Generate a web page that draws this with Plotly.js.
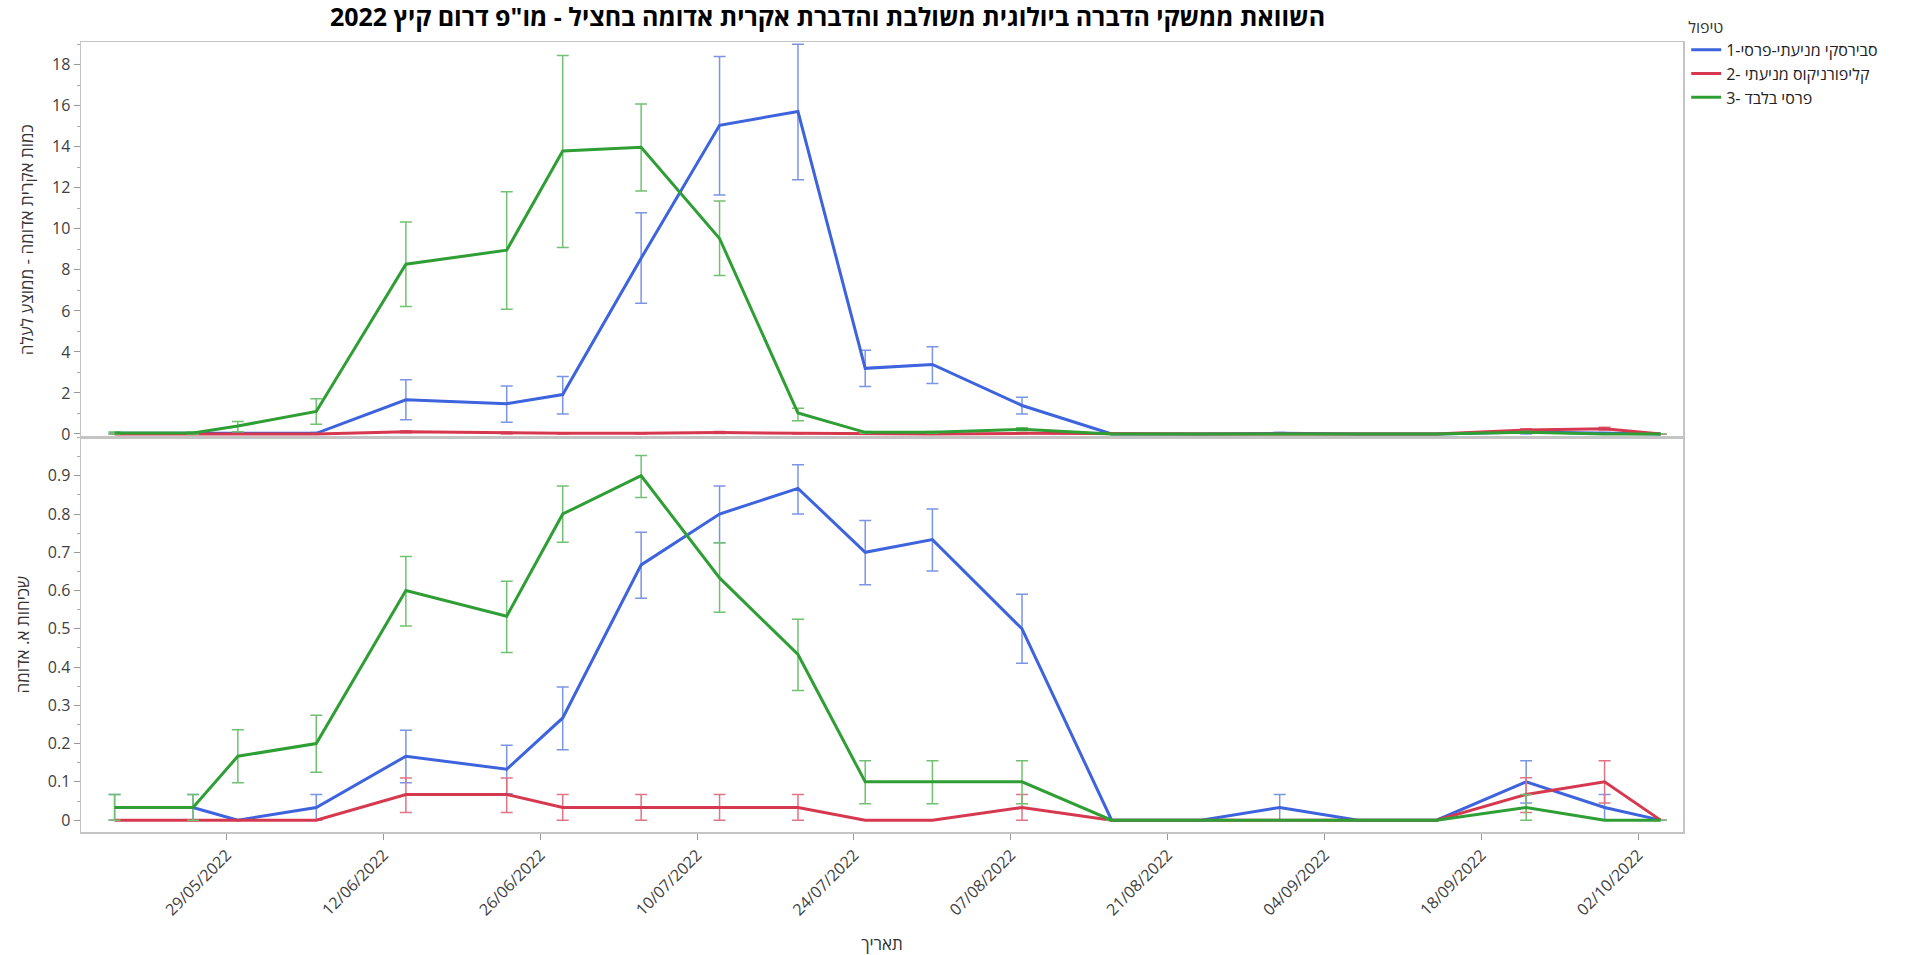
<!DOCTYPE html>
<html>
<head>
<meta charset="utf-8">
<script src="https://cdn.plot.ly/plotly-3.0.1.min.js"></script>
<style>html,body{margin:0;padding:0;background:#fff;}#chart{width:1919px;height:955px;}</style>
</head>
<body>
<div id="chart"></div>
<script>
// ---- data ----
const dates = ['2022-05-19','2022-05-26','2022-05-30','2022-06-06','2022-06-14','2022-06-23','2022-06-28','2022-07-05','2022-07-12','2022-07-19','2022-07-25','2022-07-31','2022-08-08','2022-08-16','2022-08-24','2022-08-31','2022-09-07','2022-09-14','2022-09-22','2022-09-29','2022-10-04'];

const seriesNames = ['1-סבירסקי מניעתי-פרסי', '2- קליפורניקוס מניעתי', '3- פרסי בלבד'];

// top panel: mites per leaf (mean) with error-bar ends
const mitesBlue      = [0.03,0.03,0,0.03,1.67,1.48,1.92,8.57,15.05,15.72,3.2,3.39,1.39,0,0,0.03,0,0,0.1,0.03,0];
const mitesBlueHi    = [0.07,0.07,0,0.07,2.64,2.34,2.8,10.78,18.4,19.0,4.08,4.25,1.79,0,0,0.07,0,0,0.2,0.07,0];
const mitesBlueLo    = [0,0,0,0,0.69,0.57,0.98,6.37,11.65,12.4,2.32,2.46,0.98,0,0,0,0,0,0,0,0];
const mitesRed       = [0,0,0,0,0.11,0.05,0.03,0.03,0.07,0.03,0,0,0.03,0,0,0,0,0,0.2,0.26,0];
const mitesRedHi     = [0,0,0,0,0.16,0.1,0.06,0.06,0.12,0.06,0,0,0.06,0,0,0,0,0,0.26,0.33,0];
const mitesRedLo     = [0,0,0,0,0.06,0,0,0,0.02,0,0,0,0,0,0,0,0,0,0.14,0.19,0];
const mitesGreen     = [0.05,0.05,0.39,1.1,8.28,8.96,13.8,13.98,9.53,1.02,0.08,0.08,0.23,0,0,0,0,0,0.08,0,0];
const mitesGreenHi   = [0.1,0.1,0.61,1.72,10.34,11.81,18.45,16.09,11.36,1.26,0.12,0.12,0.3,0,0,0,0,0,0.12,0,0];
const mitesGreenLo   = [0,0,0.11,0.48,6.21,6.08,9.09,11.85,7.73,0.64,0.04,0.04,0.16,0,0,0,0,0,0.04,0,0];

// bottom panel: incidence
const incBlue    = [0.033,0.033,0,0.033,0.167,0.133,0.267,0.667,0.8,0.867,0.7,0.733,0.5,0,0,0.033,0,0,0.1,0.033,0];
const incBlueHi  = [0.067,0.067,0,0.067,0.235,0.196,0.348,0.752,0.873,0.929,0.783,0.813,0.59,0,0,0.067,0,0,0.155,0.067,0];
const incBlueLo  = [0,0,0,0,0.098,0.069,0.184,0.58,0.725,0.8,0.615,0.651,0.41,0,0,0,0,0,0.045,0,0];
const incRed     = [0,0,0,0,0.067,0.067,0.033,0.033,0.033,0.033,0,0,0.033,0,0,0,0,0,0.067,0.1,0];
const incRedHi   = [0,0,0,0,0.11,0.11,0.067,0.067,0.067,0.067,0,0,0.067,0,0,0,0,0,0.111,0.155,0];
const incRedLo   = [0,0,0,0,0.02,0.02,0,0,0,0,0,0,0,0,0,0,0,0,0.02,0.045,0];
const incGreen   = [0.033,0.033,0.167,0.2,0.6,0.533,0.8,0.9,0.633,0.433,0.1,0.1,0.1,0,0,0,0,0,0.033,0,0];
const incGreenHi = [0.067,0.067,0.236,0.274,0.689,0.624,0.873,0.953,0.725,0.525,0.155,0.155,0.155,0,0,0,0,0,0.067,0,0];
const incGreenLo = [0,0,0.098,0.125,0.507,0.438,0.726,0.843,0.543,0.339,0.043,0.043,0.043,0,0,0,0,0,0,0,0];

// ---- styles ----
const lineColors = ['#3D63DD', '#D6394F', '#2F9F35'];
const barColors  = ['#7B95E6', '#E07484', '#72C172'];
const FONT = 'Segoe UI, "Open Sans", "Noto Sans", "DejaVu Sans", sans-serif';

function mk(i, y, hi, lo, xa, ya, showLegend) {
  return {
    type: 'scatter', mode: 'lines', x: dates, y: y,
    name: seriesNames[i], legendgroup: 'g' + i, showlegend: showLegend,
    xaxis: xa, yaxis: ya,
    line: {color: lineColors[i], width: 3},
    error_y: {type: 'data', symmetric: false,
      array: hi.map((v, k) => v - y[k]),
      arrayminus: y.map((v, k) => v - lo[k]),
      color: barColors[i], thickness: 1.5, width: 6}
  };
}

const traces = [
  mk(0, mitesBlue, mitesBlueHi, mitesBlueLo, 'x2', 'y2', true),
  mk(1, mitesRed, mitesRedHi, mitesRedLo, 'x2', 'y2', true),
  mk(2, mitesGreen, mitesGreenHi, mitesGreenLo, 'x2', 'y2', true),
  mk(0, incBlue, incBlueHi, incBlueLo, 'x', 'y', false),
  mk(1, incRed, incRedHi, incRedLo, 'x', 'y', false),
  mk(2, incGreen, incGreenHi, incGreenLo, 'x', 'y', false)
];

const axisLine = '#C4C4C4';
const tickFont = {family: FONT, size: 16, color: '#404040'};
const xRange = ['2022-05-16', '2022-10-06'];
const split = 0.4994;

const layout = {
  width: 1919, height: 955,
  margin: {l: 81, r: 236, t: 34, b: 123},
  paper_bgcolor: '#fff', plot_bgcolor: '#fff',
  font: {family: FONT, color: '#333'},
  title: {text: 'השוואת ממשקי הדברה ביולוגית משולבת והדברת אקרית אדומה בחציל - מו"פ דרום קיץ 2022',
    x: 0.466, xref: 'paper', xanchor: 'center', y: 0.982, yref: 'container', yanchor: 'middle',
    font: {family: FONT, size: 25, color: '#000', weight: 'bold'}},
  showlegend: true,
  legend: {x: 1.002, xanchor: 'left', y: 1.038, yanchor: 'top',
    title: {text: 'טיפול', font: {family: FONT, size: 16, color: '#333'}},
    font: {family: FONT, size: 16, color: '#222'}, tracegroupgap: 0, itemwidth: 30},
  xaxis: {type: 'date', range: xRange, anchor: 'y', domain: [0, 1],
    tick0: '2022-05-29', dtick: 14 * 86400000, tickformat: '%d/%m/%Y', tickangle: -45,
    ticks: 'outside', ticklen: 6, tickcolor: '#999', tickfont: tickFont,
    showline: true, mirror: true, linecolor: axisLine, linewidth: 1.5, showgrid: false, zeroline: false,
    title: {text: 'תאריך', font: {family: FONT, size: 17, color: '#333'}, standoff: 30}},
  xaxis2: {type: 'date', range: xRange, anchor: 'y2', matches: 'x', showticklabels: false,
    ticks: '', showline: true, mirror: true, linecolor: axisLine, linewidth: 1.5, showgrid: false, zeroline: false},
  yaxis: {domain: [0, split], range: [-0.031, 1.0], tickvals: [0,0.1,0.2,0.3,0.4,0.5,0.6,0.7,0.8,0.9],
    ticktext: ['0','0.1','0.2','0.3','0.4','0.5','0.6','0.7','0.8','0.9'],
    ticks: 'outside', ticklen: 6, tickcolor: '#999', tickfont: tickFont,
    minor: {dtick: 0.05, tick0: 0, ticks: 'outside', ticklen: 3, tickcolor: '#aaa', showgrid: false},
    showline: true, mirror: true, linecolor: axisLine, linewidth: 1.5, showgrid: false, zeroline: false,
    title: {text: 'שכיחות א. אדומה', font: {family: FONT, size: 17, color: '#333'}, standoff: 14}},
  yaxis2: {domain: [split, 1], range: [-0.17, 19.11], tick0: 0, dtick: 2,
    ticks: 'outside', ticklen: 6, tickcolor: '#999', tickfont: tickFont,
    minor: {dtick: 1, tick0: 0, ticks: 'outside', ticklen: 3, tickcolor: '#aaa', showgrid: false},
    showline: true, mirror: true, linecolor: axisLine, linewidth: 1.5, showgrid: false, zeroline: false,
    title: {text: 'כמות אקרית אדומה - ממוצע לעלה', font: {family: FONT, size: 17, color: '#333'}, standoff: 14}}
};

Plotly.newPlot('chart', traces, layout, {displayModeBar: false, staticPlot: true});
</script>
</body>
</html>
